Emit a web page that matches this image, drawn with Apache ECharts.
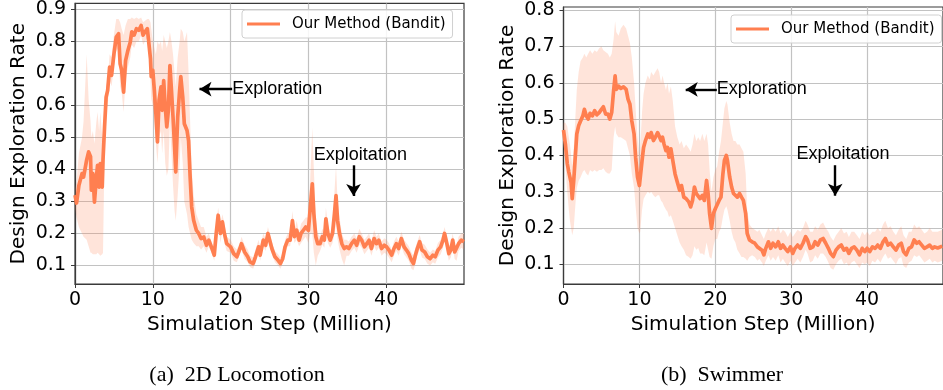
<!DOCTYPE html>
<html><head><meta charset="utf-8">
<script src="https://cdn.jsdelivr.net/npm/echarts@6/dist/echarts.min.js"></script>
<style>html,body{margin:0;padding:0;background:#fff}#c{width:943px;height:390px}</style>
</head><body><div id="c"></div>
<script>
// ---------- Left panel: 2D Locomotion ----------
const leftX = [0,0.2,0.5,0.9,1.1,1.5,1.75,2.0,2.1,2.3,
2.5,2.75,2.9,3.1,3.25,3.5,3.6,3.8,4.0,4.2,
4.45,4.7,5.0,5.3,5.6,5.8,6.0,6.25,6.5,6.8,
7.1,7.3,7.6,7.9,8.2,8.5,8.75,9.0,9.3,9.5,
9.7,9.8,10.0,10.2,10.4,10.6,10.8,11.05,11.2,11.4,
11.6,11.8,12.0,12.2,12.4,12.6,12.8,12.95,13.2,13.45,
13.6,13.85,14.05,14.4,14.6,14.8,15.0,15.25,15.6,15.9,
16.2,16.55,16.9,17.2,17.6,17.9,18.15,18.4,18.7,18.95,
19.2,19.5,20.0,20.4,20.8,21.2,21.4,21.8,22.2,22.5,
22.9,23.2,23.6,23.8,24.2,24.5,24.8,25.3,25.7,26.1,
26.4,26.7,27.0,27.35,27.65,27.95,28.2,28.5,28.8,29.05,
29.35,29.65,30.0,30.25,30.5,30.7,30.95,31.2,31.5,31.8,
32.05,32.25,32.5,32.8,33.1,33.35,33.55,33.75,34.0,34.3,
34.6,34.9,35.2,35.55,35.9,36.2,36.55,36.85,37.2,37.5,
37.8,38.1,38.45,38.75,39.05,39.4,39.75,40.05,40.35,40.7,
41.0,41.3,41.6,41.95,42.3,42.6,42.9,43.25,43.5,43.75,
44.0,44.3,44.6,44.95,45.3,45.65,46.0,46.3,46.65,47.0,
47.3,47.5,47.8,48.05,48.3,48.55,48.8,49.05,49.3,49.65,
50.0];
const leftMean = [0.32,0.295,0.35,0.387,0.376,0.43,0.455,0.44,0.335,0.387,
0.298,0.376,0.413,0.345,0.418,0.345,0.43,0.533,0.626,0.647,
0.72,0.694,0.76,0.814,0.824,0.73,0.71,0.642,0.74,0.772,
0.798,0.83,0.82,0.84,0.835,0.85,0.82,0.83,0.84,0.845,
0.746,0.69,0.71,0.647,0.574,0.486,0.616,0.658,0.585,0.678,
0.595,0.533,0.585,0.725,0.647,0.564,0.47,0.392,0.564,0.647,
0.69,0.626,0.543,0.522,0.49,0.376,0.283,0.241,0.21,0.2,
0.184,0.189,0.163,0.179,0.153,0.132,0.2,0.257,0.2,0.236,
0.2,0.168,0.158,0.137,0.127,0.153,0.168,0.142,0.127,0.111,
0.106,0.127,0.158,0.132,0.179,0.163,0.2,0.153,0.127,0.116,
0.106,0.121,0.158,0.179,0.179,0.24,0.19,0.21,0.179,0.2,
0.21,0.22,0.21,0.283,0.355,0.262,0.19,0.168,0.168,0.19,
0.179,0.246,0.2,0.179,0.2,0.262,0.318,0.24,0.2,0.168,
0.153,0.158,0.153,0.168,0.179,0.163,0.19,0.179,0.158,0.168,
0.179,0.153,0.184,0.168,0.179,0.153,0.163,0.158,0.148,0.132,
0.153,0.168,0.153,0.184,0.158,0.148,0.137,0.116,0.106,0.132,
0.153,0.174,0.148,0.142,0.127,0.121,0.132,0.127,0.148,0.158,
0.179,0.2,0.168,0.137,0.148,0.179,0.142,0.137,0.168,0.179,
0.174];
const leftUpper = [0.34,0.36,0.45,0.5,0.55,0.76,0.62,0.55,0.5,0.52,
0.48,0.55,0.58,0.52,0.58,0.5,0.5,0.56,0.66,0.68,
0.76,0.75,0.82,0.87,0.87,0.86,0.84,0.82,0.85,0.87,
0.87,0.875,0.87,0.875,0.87,0.875,0.86,0.865,0.87,0.87,
0.86,0.84,0.8,0.78,0.76,0.8,0.79,0.8,0.77,0.82,
0.8,0.78,0.8,0.83,0.8,0.76,0.7,0.66,0.75,0.8,
0.84,0.83,0.8,0.83,0.7,0.55,0.4,0.32,0.26,0.24,
0.22,0.22,0.19,0.2,0.17,0.15,0.23,0.28,0.23,0.26,
0.23,0.19,0.18,0.16,0.15,0.17,0.19,0.165,0.15,0.13,
0.125,0.15,0.18,0.155,0.2,0.185,0.22,0.175,0.145,0.135,
0.125,0.14,0.18,0.2,0.2,0.27,0.21,0.24,0.2,0.23,
0.24,0.25,0.25,0.38,0.53,0.4,0.25,0.2,0.19,0.215,
0.2,0.28,0.23,0.2,0.23,0.33,0.41,0.3,0.25,0.2,
0.18,0.18,0.175,0.19,0.2,0.185,0.215,0.2,0.18,0.19,
0.2,0.175,0.21,0.19,0.2,0.175,0.185,0.18,0.17,0.15,
0.175,0.19,0.175,0.205,0.18,0.17,0.16,0.14,0.13,0.155,
0.175,0.195,0.17,0.165,0.15,0.14,0.15,0.145,0.17,0.18,
0.2,0.22,0.19,0.16,0.17,0.2,0.165,0.16,0.19,0.2,
0.2];
const leftLower = [0.28,0.25,0.22,0.2,0.19,0.18,0.16,0.14,0.14,0.135,
0.135,0.135,0.14,0.135,0.13,0.135,0.14,0.46,0.59,0.6,
0.68,0.66,0.72,0.77,0.78,0.66,0.64,0.58,0.68,0.72,
0.75,0.79,0.78,0.8,0.8,0.82,0.79,0.8,0.81,0.81,
0.68,0.62,0.6,0.55,0.48,0.42,0.5,0.52,0.45,0.52,
0.42,0.38,0.4,0.55,0.45,0.35,0.27,0.24,0.32,0.42,
0.5,0.42,0.3,0.26,0.22,0.2,0.18,0.17,0.16,0.16,
0.15,0.16,0.14,0.16,0.135,0.115,0.175,0.23,0.17,0.21,
0.17,0.145,0.14,0.115,0.11,0.135,0.15,0.12,0.11,0.095,
0.09,0.11,0.14,0.115,0.16,0.145,0.18,0.135,0.11,0.1,
0.09,0.105,0.14,0.16,0.16,0.21,0.17,0.18,0.16,0.17,
0.18,0.19,0.17,0.2,0.2,0.14,0.1,0.13,0.145,0.165,
0.155,0.21,0.17,0.155,0.17,0.2,0.23,0.18,0.15,0.12,
0.1,0.13,0.13,0.145,0.155,0.14,0.165,0.155,0.135,0.145,
0.155,0.13,0.16,0.145,0.155,0.13,0.14,0.135,0.125,0.11,
0.13,0.145,0.13,0.16,0.135,0.125,0.115,0.09,0.085,0.105,
0.13,0.15,0.125,0.12,0.105,0.1,0.11,0.105,0.125,0.135,
0.155,0.175,0.145,0.115,0.125,0.155,0.12,0.115,0.145,0.155,
0.15];

// ---------- Right panel: Swimmer ----------
const rightX = [0,0.1,0.25,0.5,0.7,0.85,1.0,1.15,1.35,1.55,
1.75,2.0,2.25,2.55,2.75,3.0,3.25,3.5,3.8,4.1,
4.4,4.7,5.0,5.25,5.55,5.85,6.1,6.35,6.6,6.8,
6.95,7.25,7.55,7.9,8.25,8.5,8.75,9.0,9.3,9.5,
9.75,10.0,10.1,10.35,10.55,10.8,11.1,11.35,11.55,11.85,
12.1,12.4,12.6,12.85,13.05,13.25,13.5,13.7,13.9,14.15,
14.4,14.7,15.0,15.3,15.55,15.85,16.15,16.5,16.75,17.0,
17.25,17.5,17.75,18.0,18.3,18.55,18.85,19.05,19.25,19.5,
19.75,20.0,20.25,20.5,20.75,21.0,21.2,21.45,21.6,21.9,
22.15,22.4,22.65,22.9,23.2,23.45,23.7,24.0,24.2,24.5,
24.85,25.2,25.55,25.8,26.15,26.4,26.65,27.0,27.3,27.6,
27.95,28.3,28.6,28.9,29.2,29.55,29.9,30.2,30.5,30.85,
31.2,31.55,31.9,32.15,32.5,32.85,33.15,33.5,33.85,34.2,
34.55,34.9,35.2,35.55,35.9,36.25,36.6,36.95,37.3,37.6,
37.95,38.3,38.65,39.0,39.35,39.7,40.0,40.35,40.7,41.05,
41.4,41.75,42.1,42.4,42.75,43.1,43.45,43.8,44.15,44.5,
44.8,45.15,45.5,45.85,46.2,46.55,46.85,47.2,47.55,47.9,
48.25,48.6,48.9,49.3,49.9];
const rightMean = [0.47,0.473,0.431,0.377,0.354,0.349,0.326,0.281,0.331,0.395,
0.459,0.482,0.495,0.509,0.527,0.509,0.5,0.516,0.509,0.523,
0.512,0.518,0.527,0.534,0.514,0.514,0.5,0.518,0.578,0.619,
0.582,0.591,0.585,0.589,0.582,0.555,0.541,0.495,0.459,0.395,
0.34,0.317,0.322,0.386,0.422,0.441,0.459,0.45,0.463,0.441,
0.45,0.463,0.468,0.441,0.45,0.431,0.413,0.422,0.395,0.418,
0.386,0.349,0.326,0.304,0.317,0.285,0.281,0.272,0.258,0.276,
0.313,0.295,0.299,0.281,0.29,0.276,0.331,0.295,0.24,0.199,
0.24,0.253,0.249,0.276,0.285,0.349,0.386,0.4,0.386,0.34,
0.313,0.295,0.299,0.285,0.295,0.285,0.276,0.24,0.185,0.167,
0.162,0.158,0.148,0.153,0.139,0.126,0.144,0.162,0.144,0.158,
0.148,0.162,0.144,0.153,0.144,0.135,0.148,0.13,0.144,0.153,
0.144,0.158,0.176,0.167,0.144,0.148,0.162,0.153,0.167,0.171,
0.158,0.144,0.13,0.121,0.139,0.148,0.153,0.139,0.144,0.13,
0.144,0.148,0.139,0.126,0.144,0.135,0.144,0.135,0.148,0.144,
0.153,0.144,0.162,0.171,0.153,0.158,0.148,0.139,0.153,0.158,
0.135,0.126,0.144,0.148,0.167,0.158,0.162,0.153,0.144,0.148,
0.153,0.144,0.148,0.145,0.15];
const rightUpper = [0.49,0.49,0.49,0.48,0.45,0.43,0.4,0.37,0.42,0.5,
0.58,0.63,0.66,0.67,0.68,0.67,0.68,0.69,0.68,0.69,
0.685,0.695,0.7,0.69,0.685,0.68,0.67,0.68,0.72,0.77,
0.74,0.73,0.75,0.76,0.75,0.73,0.71,0.67,0.6,0.53,
0.45,0.4,0.42,0.52,0.57,0.6,0.62,0.61,0.63,0.62,
0.63,0.64,0.63,0.6,0.62,0.6,0.58,0.6,0.57,0.59,
0.55,0.48,0.45,0.43,0.44,0.42,0.43,0.42,0.41,0.43,
0.46,0.44,0.45,0.44,0.46,0.44,0.46,0.43,0.36,0.3,
0.34,0.36,0.37,0.41,0.44,0.49,0.53,0.55,0.54,0.49,
0.46,0.44,0.44,0.43,0.43,0.42,0.41,0.35,0.25,0.21,
0.2,0.195,0.19,0.195,0.18,0.17,0.185,0.2,0.19,0.2,
0.19,0.205,0.185,0.195,0.19,0.175,0.19,0.175,0.185,0.195,
0.19,0.2,0.22,0.21,0.19,0.19,0.205,0.195,0.21,0.215,
0.2,0.19,0.175,0.165,0.18,0.19,0.2,0.185,0.19,0.175,
0.19,0.19,0.18,0.17,0.19,0.18,0.19,0.18,0.19,0.19,
0.2,0.19,0.21,0.22,0.2,0.205,0.19,0.18,0.195,0.205,
0.18,0.17,0.19,0.19,0.21,0.2,0.205,0.195,0.185,0.19,
0.2,0.19,0.19,0.19,0.195];
const rightLower = [0.45,0.44,0.37,0.3,0.25,0.22,0.2,0.18,0.2,0.26,
0.31,0.33,0.34,0.355,0.36,0.35,0.345,0.36,0.355,0.36,
0.355,0.36,0.36,0.365,0.355,0.35,0.35,0.36,0.45,0.48,
0.46,0.45,0.45,0.445,0.44,0.42,0.4,0.35,0.31,0.26,
0.2,0.185,0.19,0.25,0.28,0.29,0.3,0.295,0.3,0.29,
0.285,0.29,0.29,0.275,0.27,0.26,0.25,0.245,0.23,0.235,
0.22,0.2,0.18,0.16,0.15,0.14,0.125,0.12,0.115,0.125,
0.15,0.14,0.145,0.13,0.13,0.125,0.16,0.14,0.12,0.115,
0.15,0.17,0.17,0.19,0.2,0.23,0.25,0.26,0.25,0.22,
0.19,0.17,0.16,0.14,0.13,0.12,0.12,0.115,0.11,0.12,
0.125,0.12,0.11,0.115,0.105,0.095,0.11,0.125,0.11,0.12,
0.11,0.125,0.105,0.115,0.105,0.095,0.11,0.095,0.105,0.115,
0.105,0.12,0.14,0.13,0.105,0.11,0.125,0.115,0.13,0.13,
0.12,0.105,0.09,0.085,0.1,0.11,0.115,0.1,0.105,0.095,
0.105,0.11,0.1,0.09,0.105,0.1,0.105,0.095,0.11,0.105,
0.115,0.105,0.12,0.13,0.115,0.12,0.11,0.1,0.115,0.12,
0.095,0.09,0.105,0.11,0.125,0.12,0.125,0.115,0.105,0.11,
0.115,0.105,0.11,0.105,0.11];

// ---------- Axes, labels, annotations ----------
const xTicks = [0, 10, 20, 30, 40];
const leftYTicks = [0.1, 0.2, 0.3, 0.4, 0.5, 0.6, 0.7, 0.8, 0.9];
const rightYTicks = [0.1, 0.2, 0.3, 0.4, 0.5, 0.6, 0.7, 0.8];
const seriesName = 'Our Method (Bandit)';
const xName = 'Simulation Step (Million)';
const yName = 'Design Exploration Rate';
const captions = ['(a)  2D Locomotion', '(b)  Swimmer'];
const noteTexts = ['Exploration', 'Exploitation'];
// arrow [tailX, tailY, headX, headY]
const leftArrows = [[20.2, 0.651, 16.0, 0.651], [35.8, 0.413, 35.8, 0.317]];
const leftNotePos = [[20.2, 0.651], [30.7, 0.4465]];
const rightArrows = [[20.2, 0.582, 16.1, 0.582], [35.8, 0.373, 35.8, 0.289]];
const rightNotePos = [[20.2, 0.582], [30.7, 0.4025]];

const LINE = '#ff7f50';
const BAND = 'rgba(255,127,80,0.21)';
const AX = '#3a3a3a';
const GRIDC = '#c2c2c2';

function pairs(xs, ys) { return xs.map((x, i) => [x, ys[i]]); }

function xAxisOpt(gi) {
  return {
    type: 'value', gridIndex: gi, min: 0, max: 50,
    name: xName, nameLocation: 'middle', nameGap: 31,
    nameTextStyle: {fontFamily: 'DejaVu Sans', fontSize: 20, color: '#000'},
    axisLine: {show: true, lineStyle: {color: AX, width: 1.2}},
    axisTick: {show: true, length: 4, customValues: xTicks, lineStyle: {color: AX, width: 1}},
    axisLabel: {customValues: xTicks, margin: 7, fontFamily: 'DejaVu Sans', fontSize: 19, color: '#000'},
    splitLine: {show: true, lineStyle: {color: GRIDC, width: 1.2}}
  };
}
function yAxisOpt(gi, min, max, ticks) {
  return {
    type: 'value', gridIndex: gi, min: min, max: max,
    name: yName, nameLocation: 'middle', nameGap: 46, nameRotate: 90,
    nameTextStyle: {fontFamily: 'DejaVu Sans', fontSize: 20, color: '#000'},
    axisLine: {show: true, lineStyle: {color: AX, width: 1.2}},
    axisTick: {show: true, length: 4, customValues: ticks, lineStyle: {color: AX, width: 1}},
    axisLabel: {customValues: ticks, margin: 9, fontFamily: 'DejaVu Sans', fontSize: 19, color: '#000',
      formatter: v => Number(v).toFixed(1)},
    splitLine: {show: true, lineStyle: {color: GRIDC, width: 1.2}}
  };
}
// shaded std band: one polygon, upper edge then lower edge reversed, positioned by the axes
function bandSeries(gi, xs, lo, up) {
  return {
    type: 'custom', xAxisIndex: gi, yAxisIndex: gi, silent: true, z: 1,
    encode: {x: 0, y: 1},
    data: [[xs[0], up[0]]],
    renderItem: function (params, api) {
      const pts = [];
      for (let i = 0; i < xs.length; i++) pts.push(api.coord([xs[i], up[i]]));
      for (let i = xs.length - 1; i >= 0; i--) pts.push(api.coord([xs[i], lo[i]]));
      return {type: 'polygon', shape: {points: pts}, style: {fill: BAND, stroke: null}};
    }
  };
}
function meanSeries(gi, xs, ys, arrows, notePos) {
  return {
    type: 'line', name: seriesName, xAxisIndex: gi, yAxisIndex: gi, symbol: 'none',
    lineStyle: {color: LINE, width: 3.7, join: 'round'}, itemStyle: {color: LINE},
    data: pairs(xs, ys), z: 3,
    markLine: {
      silent: true, symbol: ['none', 'arrow'], symbolSize: [11, 12],
      lineStyle: {color: '#000', width: 2.4, type: 'solid'},
      label: {show: false},
      data: arrows.map(a => [{coord: [a[0], a[1]]}, {coord: [a[2], a[3]]}])
    },
    markPoint: {
      silent: true, symbol: 'circle', symbolSize: 0,
      label: {show: true, position: 'right', distance: 0, color: '#000',
        fontFamily: 'Liberation Sans', fontSize: 18},
      data: notePos.map((p, i) => ({coord: p, value: noteTexts[i],
        label: {formatter: noteTexts[i]}}))
    }
  };
}
function legendOpt(left, top) {
  return {
    data: [seriesName], left: left, top: top, icon: 'rect', itemWidth: 33, itemHeight: 3,
    padding: [5, 7, 5, 5], borderColor: '#d0d0d0', borderWidth: 1, borderRadius: 3,
    backgroundColor: 'rgba(255,255,255,0.85)',
    textStyle: {fontFamily: 'DejaVu Sans', fontSize: 15, color: '#000', lineHeight: 18, padding: [0, 0, 0, 7]}
  };
}

const chart = echarts.init(document.getElementById('c'), null, {renderer: 'canvas'});
chart.setOption({
  animation: false,
  backgroundColor: '#fff',
  grid: [
    {left: 75, top: 3, width: 389, height: 281, show: true, borderColor: AX, borderWidth: 1.2},
    {left: 563.5, top: 7, width: 388.5, height: 277, show: true, borderColor: AX, borderWidth: 1.2}
  ],
  xAxis: [xAxisOpt(0), xAxisOpt(1)],
  yAxis: [yAxisOpt(0, 0.042, 0.919, leftYTicks), yAxisOpt(1, 0.0457, 0.809, rightYTicks)],
  legend: [legendOpt(242, 10), legendOpt(731, 15)],
  series: [
    bandSeries(0, leftX, leftLower, leftUpper),
    meanSeries(0, leftX, leftMean, leftArrows, leftNotePos),
    bandSeries(1, rightX, rightLower, rightUpper),
    meanSeries(1, rightX, rightMean, rightArrows, rightNotePos)
  ],
  graphic: [
    {type: 'text', x: 237, y: 375, style: {text: captions[0], textAlign: 'center', textVerticalAlign: 'middle',
      font: '22px "Liberation Serif"', fill: '#000'}},
    {type: 'text', x: 722, y: 375, style: {text: captions[1], textAlign: 'center', textVerticalAlign: 'middle',
      font: '22px "Liberation Serif"', fill: '#000'}}
  ]
});
</script></body></html>
